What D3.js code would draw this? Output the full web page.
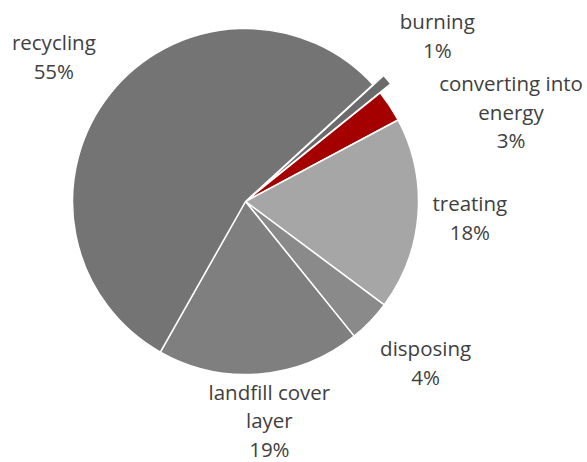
<!DOCTYPE html>
<html>
<head>
<meta charset="utf-8">
<script src="https://cdn.jsdelivr.net/npm/d3@7"></script>
<style>
  html, body { margin: 0; padding: 0; background: #ffffff; }
  svg { display: block; }
</style>
</head>
<body>
<svg id="chart" width="587" height="462"></svg>
<script>
// Waste handling shares, clockwise from the exploded "burning" slice
const categories = ["burning", "converting into energy", "treating", "disposing", "landfill cover layer", "recycling"];
const labelLines = [["burning"], ["converting into", "energy"], ["treating"], ["disposing"], ["landfill cover", "layer"], ["recycling"]];
const shares = [1, 3, 18, 4, 19, 55];
const sliceColors = ["#6b6b6b", "#a50000", "#a6a6a6", "#8a8a8a", "#7f7f7f", "#747474"];

// Label placement: distance from centre and angular nudge (degrees)
const labelRadius = [253, 280, 225, 242, 221, 240];
const labelNudge = [0, 15, 0, -2, -1.5, -1.5];

const width = 587, height = 462;
const cx = 245.5, cy = 201.5, radius = 173;
const explode = [14, 0, 0, 0, 0, 0];
const startDeg = 47.5;
const lineHeight = 28.5;

const svg = d3.select("#chart");
const g = svg.append("g").attr("transform", `translate(${cx},${cy})`);

const pie = d3.pie().sort(null).value(d => d.value)
  .startAngle(startDeg * Math.PI / 180)
  .endAngle((startDeg + 360) * Math.PI / 180);

const data = categories.map((c, i) => ({ name: c, value: shares[i], i }));
const arcs = pie(data);
const arc = d3.arc().innerRadius(0).outerRadius(radius);

g.selectAll("path.slice")
  .data(arcs)
  .join("path")
  .attr("class", "slice")
  .attr("d", arc)
  .attr("transform", d => {
    const mid = (d.startAngle + d.endAngle) / 2;
    const e = explode[d.data.i];
    return `translate(${Math.sin(mid) * e},${-Math.cos(mid) * e})`;
  })
  .attr("fill", d => sliceColors[d.data.i])
  .attr("stroke", "#ffffff")
  .attr("stroke-width", 1.5)
  .attr("stroke-linejoin", "round");

g.selectAll("text.lbl")
  .data(arcs)
  .join("text")
  .attr("class", "lbl")
  .attr("text-anchor", "middle")
  .attr("font-family", "'Open Sans', sans-serif")
  .attr("font-size", 20.5)
  .attr("fill", "#404040")
  .each(function(d) {
    const i = d.data.i;
    const mid = (d.startAngle + d.endAngle) / 2 + labelNudge[i] * Math.PI / 180;
    const x = Math.sin(mid) * labelRadius[i];
    const y = -Math.cos(mid) * labelRadius[i];
    const lines = labelLines[i].concat([d3.format(".0f")(d.data.value) + "%"]);
    const top = y - (lines.length - 1) * lineHeight / 2;
    d3.select(this).selectAll("tspan")
      .data(lines)
      .join("tspan")
      .attr("x", x)
      .attr("y", (l, k) => top + k * lineHeight)
      .attr("dy", "0.35em")
      .text(l => l);
  });
</script>
</body>
</html>
